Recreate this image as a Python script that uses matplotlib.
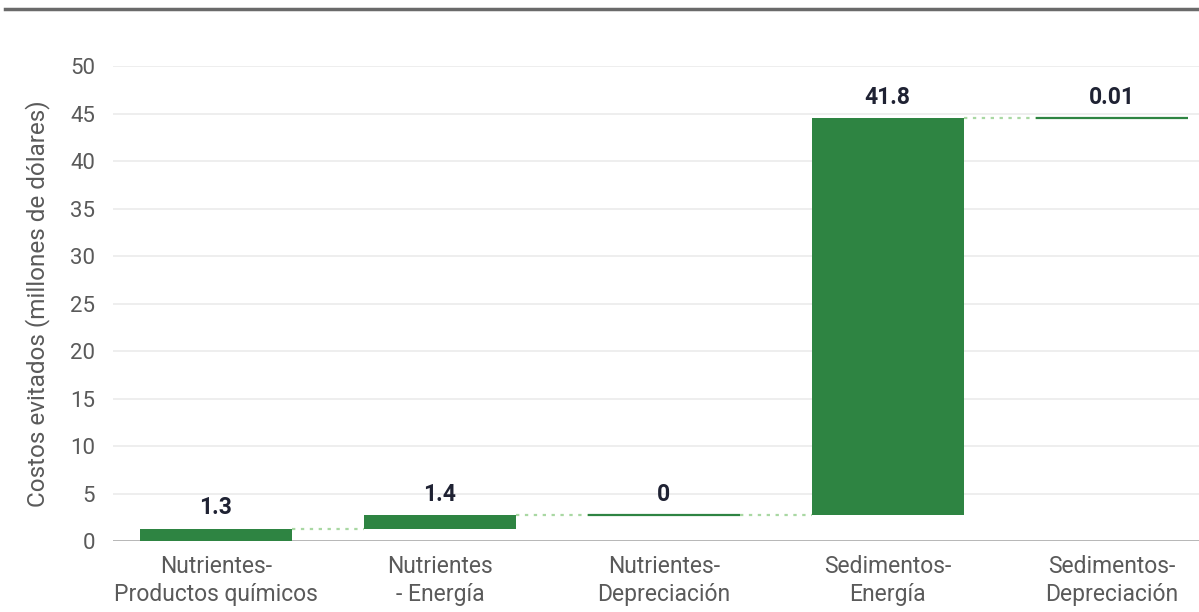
import numpy as np
import matplotlib.pyplot as plt
from matplotlib.lines import Line2D

plt.rcParams['font.family'] = ['Roboto', 'DejaVu Sans']

# categories and avoided costs (millions of dollars)
categories = ['Nutrientes-\nProductos químicos', 'Nutrientes\n- Energía',
              'Nutrientes-\nDepreciación', 'Sedimentos-\nEnergía',
              'Sedimentos-\nDepreciación']
values = [1.3, 1.4, 0, 41.8, 0.01]
labels = ['1.3', '1.4', '0', '41.8', '0.01']
yticks = [0, 5, 10, 15, 20, 25, 30, 35, 40, 45, 50]

green = '#2e8442'
connector = '#a9d8a3'

vals = np.array(values)
tops = np.cumsum(vals)
bottoms = tops - vals
x = np.arange(len(categories))
width = 0.68

fig = plt.figure(figsize=(11.99, 6.12), dpi=100)
ax = fig.add_axes([0.0942, 0.116, 0.9058, 0.776])

for yt in yticks[1:]:
    ax.axhline(yt, color='#ebebeb', lw=1.2, zorder=0)
ax.axhline(0, color='#b0b0b0', lw=2, zorder=1)

for i in range(len(x)):
    if vals[i] < 0.5:
        # almost no height: draw as a thin line
        ax.plot([x[i] - width / 2, x[i] + width / 2], [tops[i], tops[i]],
                color=green, lw=1.6, solid_capstyle='butt', zorder=3)
    else:
        ax.bar(x[i], vals[i], bottom=bottoms[i], width=width, color=green,
               zorder=3)
    ax.annotate(labels[i], (x[i], tops[i]), xytext=(0, 7),
                textcoords='offset points', ha='center', va='bottom',
                fontsize=16.5, fontweight='bold', color='#1f2233')
    if i < len(x) - 1:
        ax.plot([x[i] + width / 2, x[i + 1] - width / 2], [tops[i], tops[i]],
                color=connector, lw=1.6, ls=(0, (1.5, 2.5)), zorder=2)

ax.set_xlim(-0.46, 4.39)
ax.set_ylim(0, 50)
ax.set_yticks(yticks)
ax.set_xticks(x)
ax.set_xticklabels(categories, fontsize=16.5, linespacing=1.3)
for s in ax.spines.values():
    s.set_visible(False)
ax.tick_params(axis='both', length=0, colors='#5a5a5a')
ax.tick_params(axis='y', pad=13, labelsize=16)
ax.tick_params(axis='x', pad=10)
ax.set_ylabel('Costos evitados (millones de dólares)', fontsize=17.5,
              color='#5a5a5a', labelpad=14)

fig.add_artist(Line2D([0.004, 1], [0.986, 0.986], color='#6a6a6a', lw=2.5))

fig.savefig('out.png', dpi=100)
